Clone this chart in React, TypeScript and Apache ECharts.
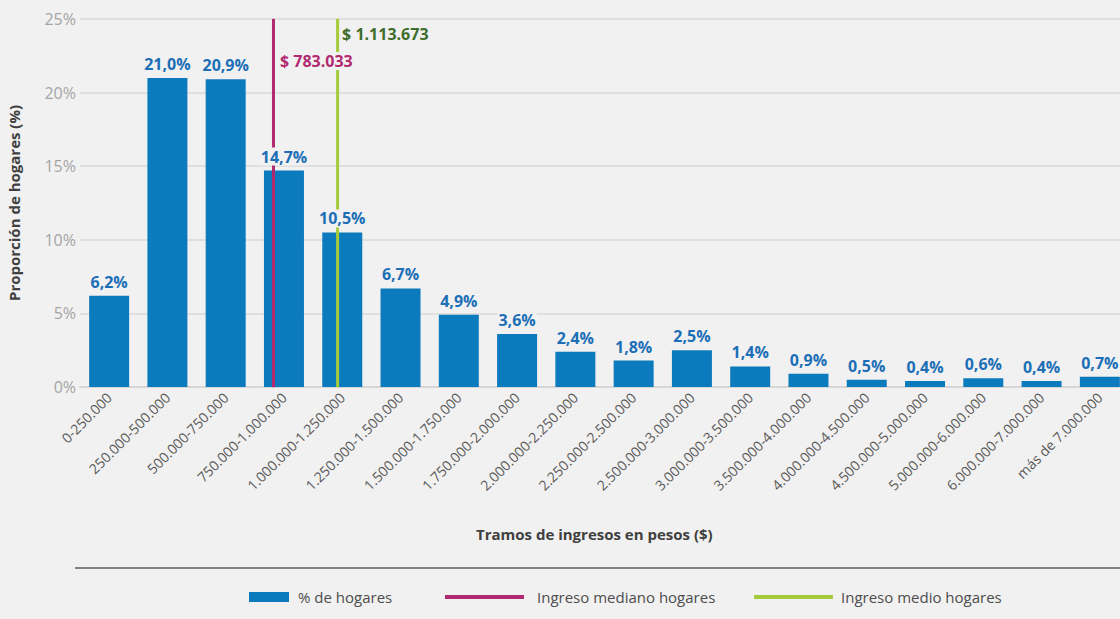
import React, { useEffect, useRef } from "react";
import * as echarts from "echarts";

const categories = [
  "0-250.000",
  "250.000-500.000",
  "500.000-750.000",
  "750.000-1.000.000",
  "1.000.000-1.250.000",
  "1.250.000-1.500.000",
  "1.500.000-1.750.000",
  "1.750.000-2.000.000",
  "2.000.000-2.250.000",
  "2.250.000-2.500.000",
  "2.500.000-3.000.000",
  "3.000.000-3.500.000",
  "3.500.000-4.000.000",
  "4.000.000-4.500.000",
  "4.500.000-5.000.000",
  "5.000.000-6.000.000",
  "6.000.000-7.000.000",
  "más de 7.000.000",
];
const shares = [6.2, 21.0, 20.9, 14.7, 10.5, 6.7, 4.9, 3.6, 2.4, 1.8, 2.5, 1.4, 0.9, 0.5, 0.4, 0.6, 0.4, 0.7];
const medianLabel = "$ 783.033";
const meanLabel = "$ 1.113.673";
// position of the reference lines on the category scale (category index units)
const medianPos = 2.82;
const meanPos = 3.92;
const yMin = 0;
const yMax = 25;
const yInterval = 5;

const BAR = "#0c7bbd";
const LABEL = "#1c6fb6";
const MAGENTA = "#b12a70";
const GREEN = "#a5ca3a";
const GREEN_TEXT = "#3f6d2c";
const BG = "#f1f1f1";
const FONT = "'Open Sans', sans-serif";

const fmt = (v: number) => v.toFixed(1).replace(".", ",") + "%";

export default function App() {
  const ref = useRef<HTMLDivElement>(null);
  useEffect(() => {
    if (!ref.current) return;
    const chart = echarts.init(ref.current, undefined, { renderer: "svg" });
    chart.setOption({
      animation: false,
      backgroundColor: BG,
      textStyle: { fontFamily: FONT },
      grid: { left: 80, top: 19, width: 1049, bottom: 232, containLabel: false, outerBoundsMode: "none" },
      xAxis: [
        {
          type: "category",
          data: categories,
          axisTick: { show: false },
          axisLine: { lineStyle: { color: "#d6d6d6", width: 2 } },
          axisLabel: {
            interval: 0,
            rotate: 45,
            margin: 8,
            color: "#595959",
            fontSize: 14,
            fontFamily: FONT,
          },
        },
        { type: "value", min: -0.5, max: 17.5, show: false },
      ],
      yAxis: {
        type: "value",
        min: yMin,
        max: yMax,
        interval: yInterval,
        name: "Proporción de hogares (%)",
        nameLocation: "middle",
        nameGap: 59,
        nameTextStyle: { fontSize: 15, fontWeight: "bold", color: "#404040", fontFamily: FONT },
        axisLine: { show: false },
        axisTick: { show: false },
        axisLabel: { formatter: "{value}%", color: "#a5a5a5", fontSize: 16, margin: 4, fontFamily: FONT },
        splitLine: { lineStyle: { color: "#d9d9d9", width: 1.5 } },
      },
      series: [
        {
          name: "% de hogares",
          type: "bar",
          data: shares,
          barWidth: 40,
          itemStyle: { color: BAR },
          z: 2,
        },
        {
          name: "Ingreso mediano hogares",
          type: "line",
          xAxisIndex: 1,
          data: [
            {
              value: [medianPos, yMax],
              label: {
                show: true,
                position: "right",
                distance: 5,
                offset: [0, 42],
                formatter: medianLabel,
                color: MAGENTA,
                fontWeight: "bold",
                fontSize: 16,
                fontFamily: FONT,
                backgroundColor: BG,
                padding: [1, 1],
              },
            },
            { value: [medianPos, yMin] },
          ],
          symbol: "circle",
          symbolSize: 1,
          showSymbol: true,
          itemStyle: { color: MAGENTA },
          lineStyle: { color: MAGENTA, width: 3 },
          z: 4,
        },
        {
          name: "Ingreso medio hogares",
          type: "line",
          xAxisIndex: 1,
          data: [
            {
              value: [meanPos, yMax],
              label: {
                show: true,
                position: "right",
                distance: 4,
                offset: [0, 15],
                formatter: meanLabel,
                color: GREEN_TEXT,
                fontWeight: "bold",
                fontSize: 16,
                fontFamily: FONT,
              },
            },
            { value: [meanPos, yMin] },
          ],
          symbol: "circle",
          symbolSize: 1,
          showSymbol: true,
          itemStyle: { color: GREEN },
          lineStyle: { color: GREEN, width: 3 },
          z: 3,
        },
        {
          name: "labels",
          type: "bar",
          data: shares,
          barWidth: 40,
          barGap: "-100%",
          itemStyle: { color: "rgba(0,0,0,0)" },
          z: 6,
          label: {
            show: true,
            position: "top",
            distance: 5,
            formatter: (p: any) => fmt(p.value),
            color: LABEL,
            fontWeight: "bold",
            fontSize: 16,
            fontFamily: FONT,
            backgroundColor: BG,
            padding: [1, 1],
          },
        },
      ],
      graphic: [
        {
          type: "text",
          left: 593 - 117,
          top: 526,
          style: {
            text: "Tramos de ingresos en pesos ($)",
            x: 0,
            y: 0,
            fill: "#404040",
            font: `bold 15px ${FONT}`,
          },
        },
        {
          type: "line",
          shape: { x1: 75, y1: 568, x2: 1120, y2: 568 },
          style: { stroke: "#808080", lineWidth: 2 },
        },
        { type: "rect", shape: { x: 249, y: 592, width: 40, height: 10 }, style: { fill: BAR } },
        {
          type: "text",
          x: 298,
          y: 597,
          style: { text: "% de hogares", fill: "#4d4d4d", font: `15px ${FONT}`, verticalAlign: "middle" },
        },
        { type: "rect", shape: { x: 445, y: 595, width: 79, height: 4 }, style: { fill: MAGENTA } },
        {
          type: "text",
          x: 537,
          y: 597,
          style: { text: "Ingreso mediano hogares", fill: "#4d4d4d", font: `15px ${FONT}`, verticalAlign: "middle" },
        },
        { type: "rect", shape: { x: 754, y: 595, width: 79, height: 4 }, style: { fill: GREEN } },
        {
          type: "text",
          x: 841,
          y: 597,
          style: { text: "Ingreso medio hogares", fill: "#4d4d4d", font: `15px ${FONT}`, verticalAlign: "middle" },
        },
      ],
    });
    return () => chart.dispose();
  }, []);
  return (
    <div
      ref={ref}
      style={{ position: "absolute", left: 0, top: 0, width: 1120, height: 619, background: BG }}
    />
  );
}
